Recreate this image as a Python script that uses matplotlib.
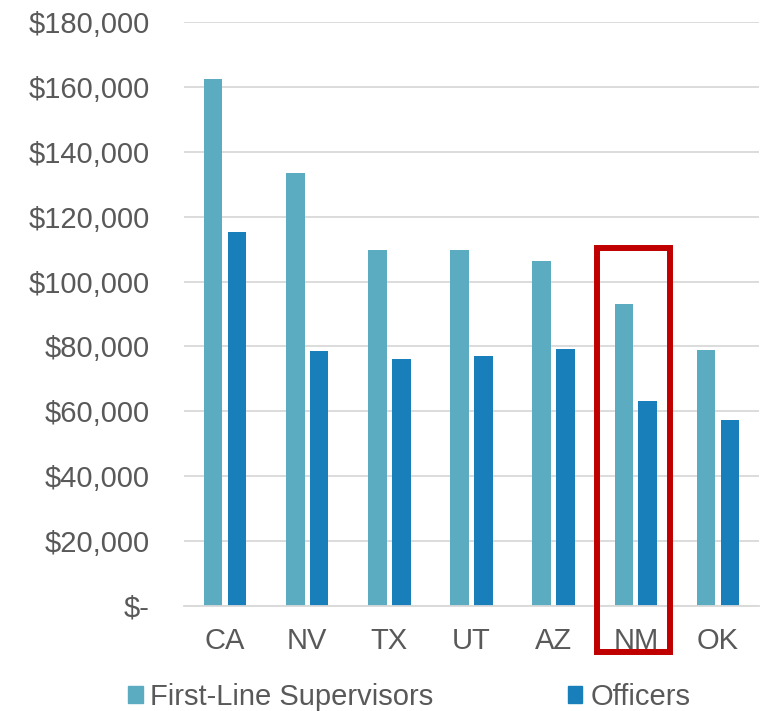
import matplotlib.pyplot as plt
import numpy as np
from matplotlib.patches import Patch, Rectangle
from matplotlib.ticker import FuncFormatter, MultipleLocator

plt.rcParams['font.family'] = ['Liberation Sans', 'DejaVu Sans']

states = ['CA', 'NV', 'TX', 'UT', 'AZ', 'NM', 'OK']
supervisors = [162500, 133400, 109800, 109600, 106500, 93200, 79000]
officers = [115200, 78500, 76200, 77000, 79300, 63200, 57200]

sup_color = '#5BACC1'
off_color = '#187FBB'
text_color = '#595959'
grid_color = '#D9D9D9'

fig = plt.figure(figsize=(7.72, 7.11), dpi=100)
ax = fig.add_axes([0.2383, 0.1482, 0.7449, 0.8204])

x = np.arange(len(states))
w = 0.227
off = 0.145
ax.bar(x - off, supervisors, w, color=sup_color, zorder=3)
ax.bar(x + off, officers, w, color=off_color, zorder=3)

ax.set_xlim(-0.5, len(states) - 0.5)
ax.set_ylim(0, 180000)
ax.yaxis.set_major_locator(MultipleLocator(20000))
ax.yaxis.set_major_formatter(FuncFormatter(lambda v, p: '$-' if v == 0 else f'${v:,.0f}'))
ax.set_xticks(x)
ax.set_xticklabels(states)

ax.grid(axis='y', color=grid_color, linewidth=1.3, zorder=0)
for s in ['top', 'right', 'left']:
    ax.spines[s].set_visible(False)
ax.spines['bottom'].set_color(grid_color)
ax.spines['bottom'].set_linewidth(1.3)
ax.spines['bottom'].set_zorder(4)
ax.tick_params(axis='both', length=0, labelsize=21, colors=text_color)
ax.tick_params(axis='y', pad=24.5)
ax.tick_params(axis='x', pad=15.5)

# highlight box around NM
nm = states.index('NM')
box = Rectangle((nm - 0.476, -14300), 0.888, 124700, fill=False,
                edgecolor='#C00000', linewidth=4.3, clip_on=False, zorder=5)
ax.add_patch(box)

handles = [Patch(color=sup_color), Patch(color=off_color)]
fig.legend(handles, ['First-Line Supervisors', 'Officers'], loc='center left',
           bbox_to_anchor=(128 / 772, 1 - 697 / 711), ncol=2, frameon=False,
           fontsize=21, handlelength=0.5, handleheight=0.5, handletextpad=0.27,
           columnspacing=4.6, borderpad=0, borderaxespad=0, labelcolor=text_color)

fig.savefig('out.png', dpi=100)
